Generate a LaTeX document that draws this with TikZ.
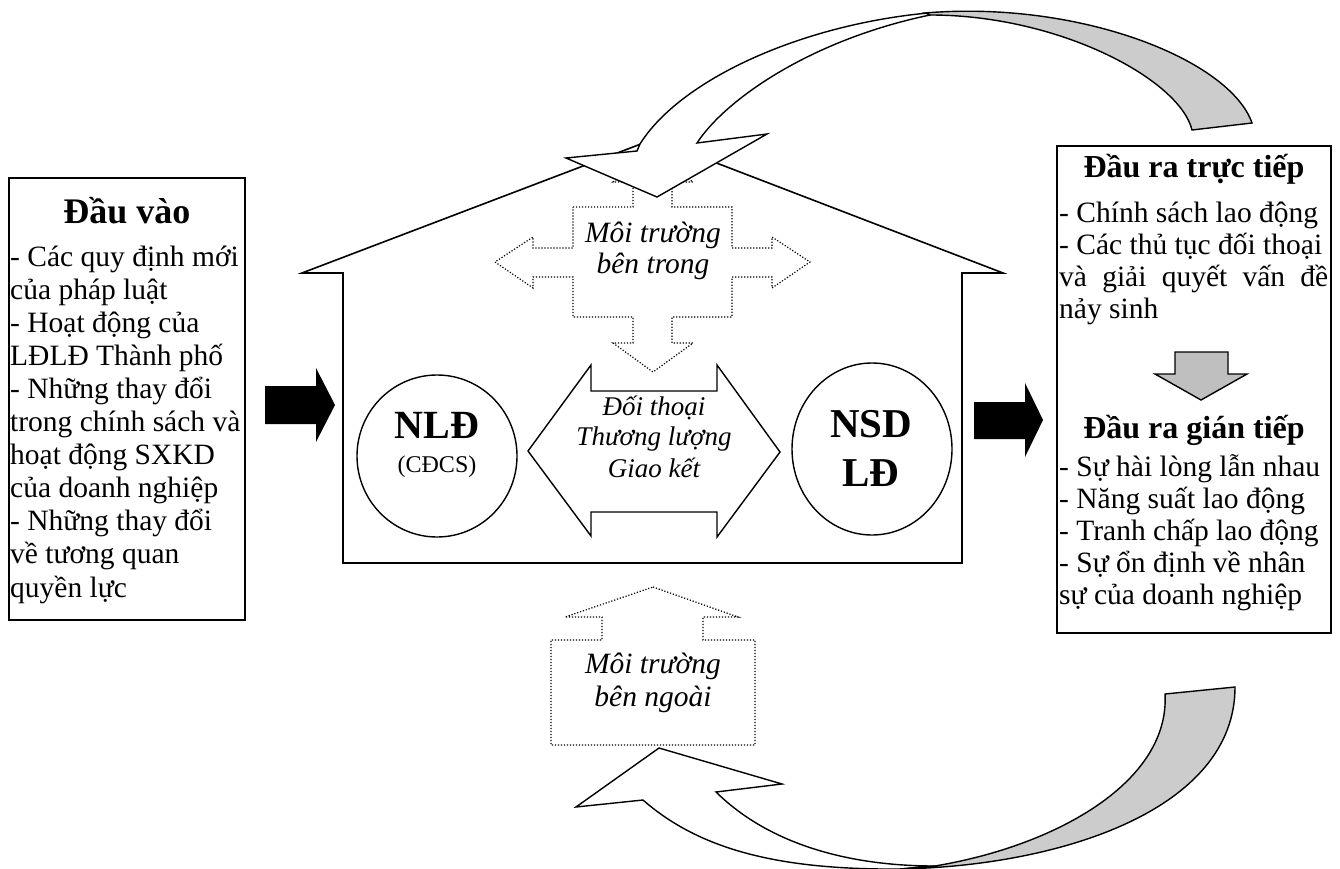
\documentclass[tikz,border=0pt]{standalone}
\usepackage{fontspec}
\setmainfont{Liberation Serif}
\begin{document}
\begin{tikzpicture}[x=1pt,y=-1pt,
  outl/.style={line width=1.6pt, line join=miter},
  thinl/.style={line width=1.4pt, line join=miter},
  dotl/.style={line width=1.2pt, dash pattern=on 1.2pt off 1.8pt},
  bodytxt/.style={font=\fontsize{29.5}{33}\selectfont, inner sep=0pt, anchor=base west},
  headtxt/.style={font=\fontsize{32}{36}\selectfont\bfseries, inner sep=0pt, anchor=base},
  itxt/.style={font=\fontsize{29.5}{33}\selectfont\itshape, inner sep=0pt, anchor=base},
  atxt/.style={font=\fontsize{27}{31}\selectfont\itshape, inner sep=0pt, anchor=base},
  bigtxt/.style={font=\fontsize{41}{46}\selectfont\bfseries, inner sep=0pt, anchor=base}
]
\useasboundingbox (0,0) rectangle (1340,869);

% ---------- left input box ----------
\draw[outl] (9,178) rectangle (245,620);
\node[headtxt, font=\fontsize{36}{40}\selectfont\bfseries] (inhead) at (127,223) {Đầu vào};
\foreach [count=\i] \t in {{- Các quy định mới},{của pháp luật},{- Hoạt động của},{LĐLĐ Thành phố},{- Những thay đổi},{trong chính sách và},{hoạt động SXKD},{của doanh nghiệp},{- Những thay đổi},{về tương quan},{quyền lực}}
  \node[bodytxt] (in\i) at (10,{266+33.1*(\i-1)}) {\t};

% ---------- black arrows ----------
\fill[black] (265,386) -- (316,386) -- (316,368) -- (335,405) -- (316,442) -- (316,424) -- (265,424) -- cycle;
\fill[black] (974,402) -- (1025,402) -- (1025,383) -- (1043,420) -- (1025,457) -- (1025,439) -- (974,439) -- cycle;

% ---------- house ----------
\draw[outl] (302,273) -- (654,139) -- (1003,273) -- (962,273) -- (962,563) -- (343,563) -- (343,273) -- cycle;

% ---------- inner dotted quad arrow ----------
\draw[dotl] (573,207) -- (633,207) -- (633,182) -- (613,182) -- (653,153) -- (693,182) -- (672,182) -- (672,207) -- (732,207)
  -- (732,248) -- (772,248) -- (772,237) -- (810,262) -- (772,288) -- (772,277) -- (732,277)
  -- (732,317) -- (672,317) -- (672,343) -- (693,343) -- (653,372) -- (613,343) -- (633,343) -- (633,317) -- (573,317)
  -- (573,277) -- (533,277) -- (533,288) -- (495,262) -- (533,237) -- (533,248) -- (573,248) -- cycle;
\node[itxt] (inner1) at (653,242) {Môi trường};
\node[itxt] (inner2) at (653,273) {bên trong};

% ---------- double arrow ----------
\draw[thinl, fill=white] (528,451) -- (591,365) -- (591,391) -- (717,391) -- (717,365) -- (780,452) -- (717,537) -- (717,512) -- (591,512) -- (591,536) -- cycle;
\node[atxt] (dlg1) at (654,415) {Đối thoại};
\node[atxt] (dlg2) at (654,445) {Thương lượng};
\node[atxt] (dlg3) at (654,477) {Giao kết};

% ---------- circles ----------
\draw[thinl] (437,456) ellipse [x radius=80, y radius=81];
\node[bigtxt, font=\fontsize{40}{44}\selectfont\bfseries] (nld) at (437,438) {NLĐ};
\node[font=\fontsize{24}{28}\selectfont, inner sep=0pt, anchor=base] (cdcs) at (437,472) {(CĐCS)};
\draw[thinl] (872,449) ellipse [x radius=80, y radius=86];
\node[bigtxt] (nsd) at (871,437) {NSD};
\node[bigtxt] (ld) at (871,486) {LĐ};

% ---------- top curved arrow ----------
\draw[thinl, fill=white] (566,158) -- (637,151) -- (640,144) .. controls (680,80) and (800,25) .. (928,13)
  -- (930,15) .. controls (810,40) and (725,100) .. (697,143) -- (767,134) -- (657,197) -- cycle;
\draw[thinl, fill=gray!40] (925,13) .. controls (1080,0) and (1230,60) .. (1252,123) -- (1192,130)
  .. controls (1180,80) and (1060,15) .. (930,15) -- cycle;

% ---------- right output box ----------
\draw[outl] (1057,146) rectangle (1331,633);
\node[headtxt] (outh1) at (1194,178) {Đầu ra trực tiếp};
\node[bodytxt] (o1) at (1059,222) {- Chính sách lao động};
\node[bodytxt] (o2) at (1059,254) {- Các thủ tục đối thoại};
\node[bodytxt] (o3) at (1059,286) {\makebox[269pt][s]{và giải quyết vấn đề}};
\node[bodytxt] (o4) at (1059,318) {nảy sinh};
\draw[thinl, fill=gray!50] (1175,352) -- (1228,352) -- (1228,374) -- (1247,374) -- (1201,400) -- (1155,374) -- (1175,374) -- cycle;
\node[headtxt] (outh2) at (1194,438) {Đầu ra gián tiếp};
\foreach [count=\i] \t in {{- Sự hài lòng lẫn nhau},{- Năng suất lao động},{- Tranh chấp lao động},{- Sự ổn định về nhân},{sự của doanh nghiệp}}
  \node[bodytxt] (p\i) at (1059,{476+32*(\i-1)}) {\t};

% ---------- lower dotted up arrow ----------
\draw[dotl] (653,587) -- (738,617) -- (703,617) -- (703,640) -- (755,640) -- (755,745) -- (551,745) -- (551,640) -- (602,640) -- (602,617) -- (565,617) -- cycle;
\node[itxt] (outer1) at (653,673) {Môi trường};
\node[itxt] (outer2) at (653,706) {bên ngoài};

% ---------- bottom curved arrow ----------
\draw[thinl, fill=white] (659,748) -- (782,784) -- (716,792) .. controls (770,845) and (850,866) .. (935,866)
  -- (900,869) .. controls (780,870) and (700,850) .. (643,800) -- (576,807) -- cycle;
\draw[thinl, fill=gray!40] (900,869) .. controls (1060,866) and (1235,810) .. (1235,687) -- (1165,694)
  .. controls (1170,780) and (1060,845) .. (935,866) -- cycle;
\end{tikzpicture}
\end{document}
